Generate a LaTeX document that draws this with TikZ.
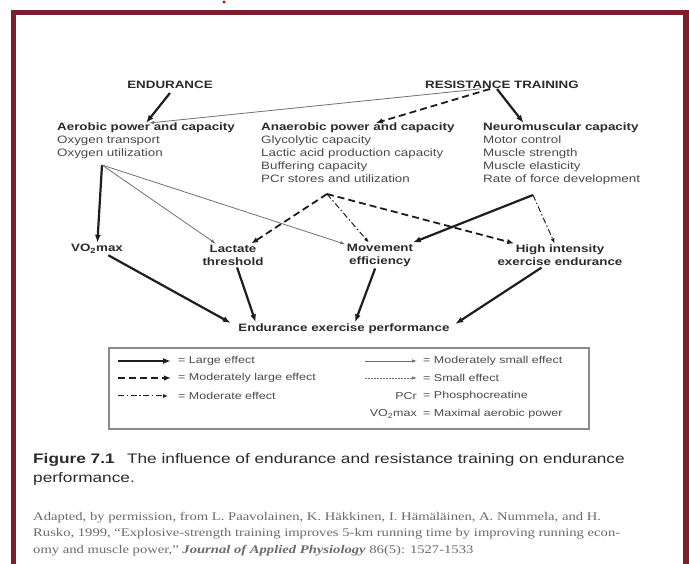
\documentclass[tikz,border=0pt]{standalone}
\usepackage{fontspec}
\setmainfont{Liberation Sans}[FakeStretch=1.25]
\newfontfamily\citefont{Liberation Serif}[FakeStretch=1.25]
\usetikzlibrary{arrows.meta}

\begin{document}
\begin{tikzpicture}[
  x=1pt,y=-1pt,
  head/.style={font=\fontsize{10.7}{13}\selectfont\bfseries,text=txtGray,inner sep=0pt},
  group/.style={font=\fontsize{10.7}{13}\selectfont,text=subGray,align=left,anchor=north west,inner sep=0pt},
  outc/.style={font=\fontsize{10.7}{13}\selectfont\bfseries,text=txtGray,align=center,inner sep=1.5pt},
  large/.style={-{Latex[length=8pt,width=6pt]},line width=2.2pt,draw=arrBlack},
  modlarge/.style={-{Latex[length=7pt,width=5.5pt]},line width=1.8pt,draw=arrBlack,dash pattern=on 7pt off 4pt},
  moderate/.style={-{Latex[length=5pt,width=4pt]},line width=1pt,draw=arrBlack,dash pattern=on 6pt off 2.5pt on 1.5pt off 2.5pt},
  modsmall/.style={-{Latex[length=5pt,width=3.5pt]},line width=0.8pt,draw=thinGray},
  small/.style={-{Latex[length=5pt,width=3.5pt]},line width=0.8pt,draw=thinGray,dash pattern=on 1.5pt off 1.5pt},
  legtxt/.style={font=\fontsize{10}{12}\selectfont,text=subGray,inner sep=0pt},
  legbox/.style={draw=boxGray,line width=1.5pt},
]
\definecolor{txtGray}{HTML}{2B2B2B}
\definecolor{subGray}{HTML}{4A4A4A}
\definecolor{arrBlack}{HTML}{1E1E1E}
\definecolor{thinGray}{HTML}{707070}
\definecolor{boxGray}{HTML}{8A8A8A}
\definecolor{frameRed}{HTML}{7A1F2B}
\definecolor{citeGray}{HTML}{6A6A6A}

\useasboundingbox (0,0) rectangle (689,564);
\clip (0,0) rectangle (689,564);
\fill[white] (0,0) rectangle (689,564);
\draw[line width=5.5pt,draw=frameRed] (13.5,12.5) rectangle (686,620);
\fill[red!85!black] (224,2) circle (1.6);

\node[head] (end) at (170,85) {ENDURANCE};
\node[head] (rt) at (502,85) {RESISTANCE TRAINING};

\node[group] (aerobic) at (57,123) {{\color{txtGray}\textbf{Aerobic power and capacity}}\\Oxygen transport\\Oxygen utilization};
\node[group] (anaerobic) at (261,123) {{\color{txtGray}\textbf{Anaerobic power and capacity}}\\Glycolytic capacity\\Lactic acid production capacity\\Buffering capacity\\PCr stores and utilization};
\node[group] (neuro) at (483,123) {{\color{txtGray}\textbf{Neuromuscular capacity}}\\Motor control\\Muscle strength\\Muscle elasticity\\Rate of force development};

\coordinate (aerp) at (102,165);
\coordinate (anap) at (327,194);
\coordinate (neup) at (533,195);

\node[outc] (vo2) at (97,249) {VO\textsubscript{2}max};
\node[outc] (lact) at (233,255.5) {Lactate\\threshold};
\node[outc] (move) at (380,255.5) {Movement\\efficiency};
\node[outc] (high) at (560,255.5) {High intensity\\exercise endurance};
\node[outc] (final) at (344,329) {Endurance exercise performance};

\draw[large] ([yshift=-4pt]end.south) -- (aerobic.north);
\draw[modsmall] ([xshift=-22pt]rt.south) -- ([xshift=3pt]aerobic.north);
\draw[modlarge] ([xshift=-12pt]rt.south) -- ([xshift=18pt]anaerobic.north);
\draw[large] ([xshift=-5pt]rt.south) -- ([xshift=-38pt]neuro.north);

\draw[large] (aerp) -- (vo2);
\draw[modsmall] (aerp) -- (lact);
\draw[modsmall] (aerp) -- (move);
\draw[modlarge] (anap) -- (lact);
\draw[moderate] (anap) -- (move);
\draw[modlarge] (anap) -- (high);
\draw[large] (neup) -- (move);
\draw[moderate] (neup) -- (high);

\draw[large] (vo2) -- ([xshift=-6pt,yshift=6pt]final.west);
\draw[large] (lact) -- ([xshift=19pt]final.north west);
\draw[large] (move) -- ([xshift=11pt]final.north);
\draw[large] (high) -- ([xshift=4pt,yshift=5pt]final.east);

\draw[legbox] (109,348) rectangle (589,429);
\coordinate (la1) at (118,361); \coordinate (lb1) at (171,361);
\coordinate (la2) at (118,378); \coordinate (lb2) at (171,378);
\coordinate (la3) at (118,396); \coordinate (lb3) at (168,396);
\coordinate (ra1) at (365,361); \coordinate (rb1) at (417,361);
\coordinate (ra2) at (365,378); \coordinate (rb2) at (417,378);
\draw[large] (la1) -- (lb1);
\draw[modlarge] (la2) -- (lb2);
\draw[moderate] (la3) -- (lb3);
\draw[modsmall] (ra1) -- (rb1);
\draw[small] (ra2) -- (rb2);
\node[legtxt,anchor=west] (lt1) at (178,361) {= Large effect};
\node[legtxt,anchor=west] (lt2) at (178,378) {= Moderately large effect};
\node[legtxt,anchor=west] (lt3) at (178,396) {= Moderate effect};
\node[legtxt,anchor=west] (rt1) at (423,361) {= Moderately small effect};
\node[legtxt,anchor=west] (rt2) at (423,378) {= Small effect};
\node[legtxt,anchor=east] (pcr) at (417,396) {PCr};
\node[legtxt,anchor=west] (rt3) at (423,396) {= Phosphocreatine};
\node[legtxt,anchor=east] (vomax) at (417,414) {VO\textsubscript{2}max};
\node[legtxt,anchor=west] (rt4) at (423,414) {= Maximal aerobic power};

\node[anchor=north west,align=left,inner sep=0pt,text=txtGray,font=\fontsize{13.8}{19}\selectfont] (cap) at (33,453) {\textbf{Figure 7.1}\hspace{0.9em}The influence of endurance and resistance training on endurance\\performance.};
\node[anchor=north west,align=left,inner sep=0pt,text=citeGray,font=\citefont\fontsize{11.7}{16.5}\selectfont] (cite) at (33,512) {Adapted, by permission, from L. Paavolainen, K. Häkkinen, I. Hämäläinen, A. Nummela, and H.\\Rusko, 1999, “Explosive-strength training improves 5-km running time by improving running econ-\\omy and muscle power,” \textit{\textbf{Journal of Applied Physiology}} 86(5): 1527-1533};
\end{tikzpicture}
\end{document}
